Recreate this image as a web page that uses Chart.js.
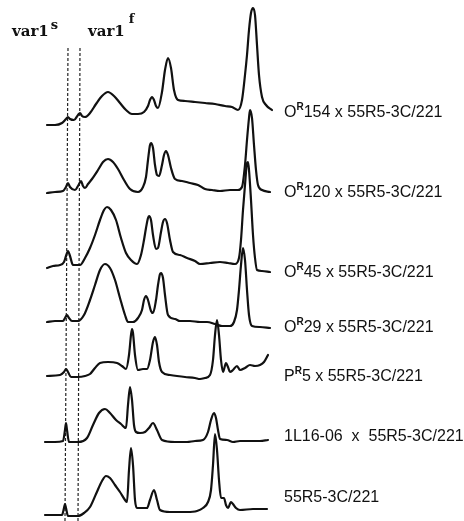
<!DOCTYPE html>
<html>
<head>
<meta charset="utf-8">
<script src="https://cdn.jsdelivr.net/npm/chart.js@4/dist/chart.umd.min.js"></script>
<style>
  html, body { margin: 0; padding: 0; background: #fff; }
  #wrap { width: 464px; height: 521px; position: relative; }
</style>
</head>
<body>
<div id="wrap"><canvas id="scan" width="464" height="521"></canvas></div>
<script>
// migration distance (x) and densitometer reading above each trace baseline
const traceLabels = [
  ['O', 'R', '154 x 55R5-3C/221'],
  ['O', 'R', '120 x 55R5-3C/221'],
  ['O', 'R', '45 x 55R5-3C/221'],
  ['O', 'R', '29 x 55R5-3C/221'],
  ['P', 'R', '5 x 55R5-3C/221'],
  ['1L16-06  x  55R5-3C/221', '', ''],
  ['55R5-3C/221', '', ''],
];
const baselines = [396, 328, 253, 199, 145, 79, 6];

const pos1 = [47, 55, 62, 66, 68, 70, 74, 78, 80, 82, 85, 90, 96, 102, 108, 114, 120, 126, 132, 138, 144, 148, 150, 152, 154, 156, 158, 162, 165, 168, 171, 174, 178, 185, 195, 205, 215, 225, 232, 238, 242, 245, 247, 249, 251, 253, 255, 257, 259, 262, 266, 272];
const int1 = [0, 0, 2, 6, 8, 6, 5, 10, 12, 9, 8, 12, 21, 29, 33, 29, 22, 15, 11, 11, 13, 19, 25, 28, 25, 19, 17, 33, 55, 67, 57, 35, 25, 24, 23, 22, 21, 19, 18, 15, 25, 50, 70, 95, 112, 117, 110, 80, 50, 28, 20, 15];

const pos2 = [47, 55, 63, 66, 68, 70, 75, 78, 81, 83, 85, 88, 92, 98, 103, 108, 113, 118, 124, 130, 138, 143, 146, 148, 150, 151, 153, 155, 157, 159, 162, 164, 166, 168, 171, 175, 182, 190, 198, 205, 212, 220, 230, 238, 242, 245, 247, 249, 250, 252, 254, 256, 258, 262, 270];
const int2 = [0, 1, 2, 6, 10, 6, 3, 7, 12, 7, 5, 9, 14, 23, 31, 34, 31, 24, 13, 4, 1, 6, 16, 33, 48, 50, 45, 28, 18, 17, 28, 38, 42, 38, 25, 14, 12, 10, 8, 4, 3, 2, 3, 3, 6, 28, 53, 75, 83, 75, 48, 23, 8, 3, 1];

const pos3 = [47, 53, 60, 64, 66, 68, 70, 73, 80, 85, 90, 95, 100, 104, 107, 111, 116, 121, 126, 131, 137, 141, 144, 146, 148, 149, 151, 153, 156, 158, 161, 163, 165, 167, 170, 173, 180, 187, 195, 200, 210, 220, 228, 235, 239, 241, 243, 245, 247, 248, 249, 251, 253, 255, 257, 262, 270];
const int3 = [0, 2, 3, 6, 12, 17, 12, 3, 3, 10, 20, 33, 48, 58, 61, 58, 48, 30, 15, 8, 4, 13, 28, 40, 50, 52, 48, 33, 19, 20, 36, 46, 49, 45, 28, 16, 13, 10, 7, 4, 5, 6, 5, 4, 10, 28, 58, 83, 105, 106, 98, 68, 33, 10, -2, -3, -4];

const pos4 = [47, 55, 63, 65, 67, 69, 72, 78, 84, 90, 95, 100, 105, 110, 115, 120, 125, 128, 133, 138, 142, 144, 146, 148, 151, 153, 156, 158, 160, 161, 163, 165, 168, 175, 180, 190, 200, 207, 215, 222, 230, 234, 237, 239, 241, 243, 245, 247, 249, 252, 260, 270];
const int4 = [0, 1, 1, 4, 7, 4, 1, 1, 7, 22, 37, 52, 58, 54, 42, 24, 7, 0, 0, 4, 12, 22, 26, 22, 11, 9, 22, 37, 48, 49, 44, 27, 7, 3, 1, 1, 0, 0, -2, -4, -4, 0, 12, 32, 57, 74, 62, 32, 7, -4, -5, -6];

const pos5 = [47, 60, 64, 66, 68, 71, 78, 85, 90, 95, 100, 108, 117, 122, 126, 129, 131, 132, 133, 135, 138, 143, 147, 150, 153, 155, 157, 159, 162, 170, 177, 185, 195, 200, 205, 210, 213, 215, 217, 219, 221, 223, 226, 228, 230, 233, 237, 240, 245, 250, 255, 260, 264, 268];
const int5 = [0, 1, 4, 7, 4, -1, -1, 0, 2, 8, 13, 14, 13, 10, 7, 21, 41, 47, 43, 21, 6, 7, 7, 16, 34, 39, 31, 14, 4, 1, 0, -1, -2, -3, -2, 1, 16, 41, 56, 41, 16, 4, 13, 9, 4, 6, 10, 6, 8, 11, 10, 11, 14, 21];

const pos6 = [45, 55, 63, 65, 66, 67, 69, 78, 87, 93, 99, 105, 110, 116, 121, 126, 128, 130, 132, 134, 136, 140, 145, 149, 153, 157, 162, 175, 187, 195, 203, 208, 211, 214, 216, 218, 220, 227, 233, 240, 253, 260, 268];
const int6 = [0, 0, 1, 12, 19, 12, 0, 0, 4, 17, 29, 33, 29, 22, 18, 14, 37, 55, 42, 17, 10, 9, 10, 14, 19, 12, 2, 0, 0, 1, 2, 10, 22, 29, 24, 12, 3, 2, 0, 1, 1, 1, 2];

const pos7 = [45, 55, 62, 64, 65, 66, 68, 78, 84, 90, 96, 102, 106, 110, 115, 120, 125, 127, 129, 131, 133, 135, 137, 142, 147, 150, 154, 157, 160, 170, 187, 197, 203, 208, 211, 213, 215, 217, 219, 221, 224, 226, 228, 231, 233, 236, 240, 253, 267];
const int7 = [0, 0, 0, 7, 11, 7, -1, -1, 2, 8, 21, 34, 39, 37, 30, 23, 15, 13, 45, 67, 50, 15, 7, 7, 7, 15, 25, 15, 5, 3, 3, 4, 7, 13, 25, 50, 81, 65, 35, 17, 17, 10, 7, 13, 11, 7, 5, 6, 6];

// var1 slow / fast band markers (top and bottom of the dotted guides)
const markerX = [[68, 65], [80, 78]];
const markerY = [473, 0];

const positions = [pos1, pos2, pos3, pos4, pos5, pos6, pos7];
const readings = [int1, int2, int3, int4, int5, int6, int7];

function buildTrace(idx) {
  const base = baselines[idx];
  return {
    data: positions[idx].map((x, i) => ({ x, y: base + readings[idx][i] })),
    borderColor: '#111',
    borderWidth: 2.2,
    cubicInterpolationMode: 'monotone',
    borderJoinStyle: 'round',
    borderCapStyle: 'round',
    pointRadius: 0,
    showLine: true,
  };
}

function buildMarker(pair) {
  return {
    data: [{ x: pair[0], y: markerY[0] }, { x: pair[1], y: markerY[1] }],
    borderColor: '#222',
    borderWidth: 1.2,
    borderDash: [3, 2],
    pointRadius: 0,
    showLine: true,
  };
}

const labelRows = [113, 193, 273, 328, 377, 437, 498];

const textPlugin = {
  id: 'scanText',
  afterDraw(chart) {
    const { ctx } = chart;
    const xs = chart.scales.x;
    ctx.save();
    ctx.fillStyle = '#111';
    ctx.textBaseline = 'middle';

    traceLabels.forEach((parts, i) => {
      let px = xs.getPixelForValue(284);
      const py = labelRows[i];
      ctx.font = '16px "Liberation Sans", Arial, sans-serif';
      ctx.fillText(parts[0], px, py);
      px += ctx.measureText(parts[0]).width;
      if (parts[1]) {
        ctx.font = 'bold 10px "Liberation Sans", Arial, sans-serif';
        ctx.fillText(parts[1], px, py - 6);
        px += ctx.measureText(parts[1]).width;
      }
      ctx.font = '16px "Liberation Sans", Arial, sans-serif';
      ctx.fillText(parts[2], px, py);
    });

    // band names over the dotted guides
    ctx.textBaseline = 'alphabetic';
    ctx.font = 'bold 15px "DejaVu Serif", serif';
    ctx.fillText('var1', 12, 36);
    let w = ctx.measureText('var1').width;
    ctx.font = 'bold 13px "DejaVu Serif", serif';
    ctx.fillText('s', 14 + w, 29);
    ctx.font = 'bold 15px "DejaVu Serif", serif';
    ctx.fillText('var1', 88, 36);
    w = ctx.measureText('var1').width;
    ctx.font = 'bold 13px "DejaVu Serif", serif';
    ctx.fillText('f', 92 + w, 23);
    ctx.restore();
  },
};

new Chart(document.getElementById('scan'), {
  type: 'scatter',
  data: {
    datasets: [
      ...positions.map((_, i) => buildTrace(i)),
      ...markerX.map(buildMarker),
    ],
  },
  options: {
    responsive: false,
    animation: false,
    layout: { padding: 0 },
    scales: {
      x: { type: 'linear', min: 0, max: 464, display: false },
      y: { type: 'linear', min: 0, max: 521, display: false },
    },
    plugins: {
      legend: { display: false },
      tooltip: { enabled: false },
    },
  },
  plugins: [textPlugin],
});
</script>
</body>
</html>
